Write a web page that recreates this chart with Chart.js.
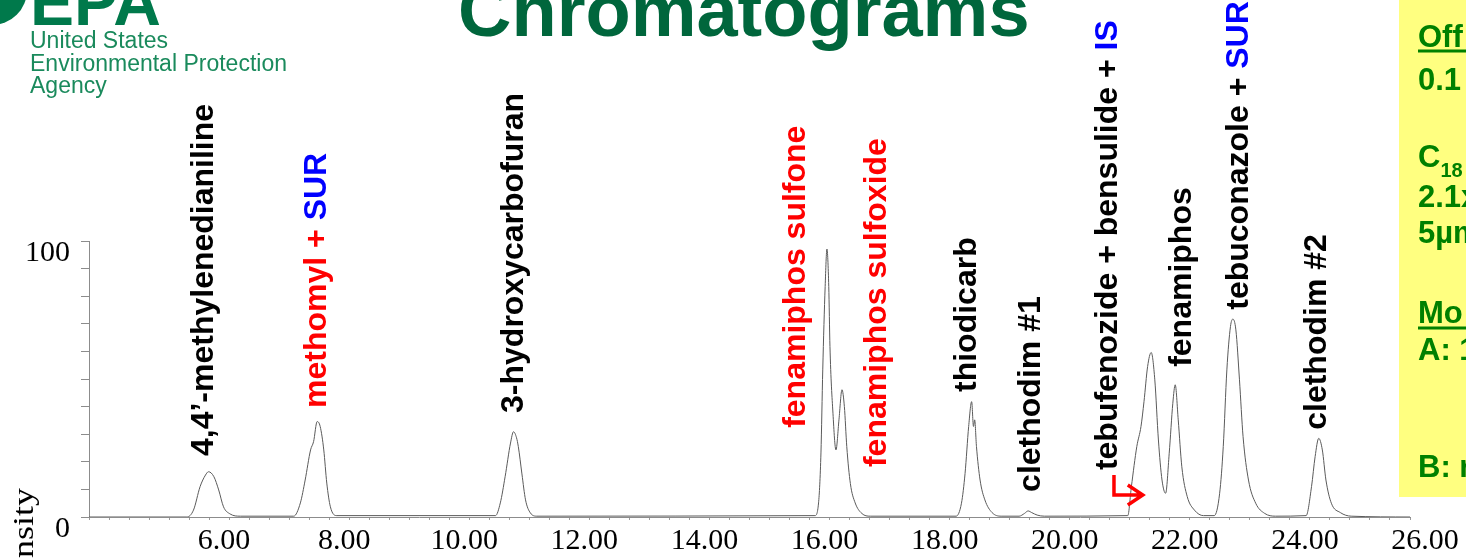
<!DOCTYPE html>
<html>
<head>
<meta charset="utf-8">
<title>Chromatograms</title>
<script src="https://cdn.jsdelivr.net/npm/chart.js@4.4.1/dist/chart.umd.min.js"></script>
<style>
  html, body { margin: 0; padding: 0; background: #fff; overflow: hidden; }
  #wrap { position: relative; width: 1466px; height: 558px; }
</style>
</head>
<body>
<div id="wrap"><canvas id="chrom" width="1466" height="558"></canvas></div>
<script>
// --- Trace (retention time in min, relative intensity in %) ---
const retentionTime = [
    4.00,
    5.63, 5.74, 5.85, 5.94, 5.99, 6.08, 6.16, 6.24, 6.35, 6.52,
    7.41, 7.52, 7.60, 7.69, 7.74, 7.80, 7.85, 7.91, 7.96, 8.02, 8.13,
    10.77, 10.85, 10.93, 11.02, 11.07, 11.12, 11.15, 11.21, 11.27, 11.35, 11.46,
    16.09, 16.15, 16.19, 16.22, 16.26, 16.29, 16.32, 16.34, 16.39, 16.44, 16.49, 16.54, 16.58, 16.62, 16.68, 16.76, 16.87, 17.01,
    18.44, 18.53, 18.59, 18.65, 18.70, 18.73, 18.75, 18.78, 18.84, 18.92, 19.04, 19.19,
    19.49, 19.58, 19.64, 19.70, 19.79, 19.91,
    21.30, 21.36, 21.45, 21.52, 21.57, 21.63, 21.69, 21.75, 21.81, 21.87, 21.93, 21.99, 22.05, 22.09, 22.14, 22.20, 22.29, 22.41, 22.56,
    22.74, 22.83, 22.89, 22.95, 23.01, 23.05, 23.10, 23.16, 23.22, 23.31, 23.43, 23.58, 23.76,
    24.27, 24.36, 24.42, 24.48, 24.54, 24.60, 24.69, 24.84, 25.02,
    26.00
];
const intensity = [
    0,
    0, 2.5, 11.0, 15.2, 16.4, 14.6, 9.8, 3.7, 1.1, 0.3,
    0.3, 5.1, 13.4, 24.3, 27.3, 34.6, 32.8, 24.3, 12.3, 3.7, 0.5,
    0.5, 5.1, 14.6, 26.8, 30.9, 28.7, 25.5, 15.6, 6.2, 1.5, 0.3,
    0.5, 5.1, 23.2, 53.3, 83.5, 97.1, 83.5, 61.8, 37.6, 24.3, 35.2, 46.1, 40.0, 25.5, 12.1, 5.1, 1.3, 0.3,
    0.3, 5.0, 15.8, 32.8, 41.8, 32.8, 35.2, 25.5, 13.4, 6.2, 1.6, 0.3,
    0.3, 1.3, 2.2, 1.6, 0.7, 0.3,
    0.5, 11.0, 25.5, 32.8, 41.8, 54.5, 59.6, 49.7, 27.9, 13.4, 8.6, 23.1, 41.2, 47.9, 35.2, 18.2, 7.4, 2.5, 0.5,
    0.5, 8.6, 25.5, 53.3, 69.0, 71.7, 67.8, 49.7, 29.1, 13.4, 5.0, 1.3, 0.3,
    0.5, 11.0, 21.9, 28.5, 24.3, 13.4, 5.0, 1.6, 0.3,
    0
];

// --- Axis ticks ---
const xTickLabels = [6, 8, 10, 12, 14, 16, 18, 20, 22, 24, 26];
const yTickLabels = [0, 100];

// --- Peak names, where they stand (time, intensity at the start of the text) ---
const peakNames = [
    '4,4\u2019-methylenedianiline',
    'methomyl + SUR',
    '3-hydroxycarbofuran',
    'fenamiphos sulfone',
    'fenamiphos sulfoxide',
    'thiodicarb',
    'clethodim #1',
    'tebufenozide + bensulide + IS',
    'fenamiphos',
    'tebuconazole + SUR',
    'clethodim #2'
];
const peakLabelTime = [6.07, 7.94, 11.23, 15.93, 17.28, 18.77, 19.84, 21.12, 22.35, 23.30, 24.60];
const peakLabelLevel = [22.1, 39.5, 37.7, 32.3, 18.1, 45.3, 9.1, 17.0, 54.4, 75.1, 31.6];
const peakHighlighted = [false, true, false, true, true, false, false, false, false, false, false];

// arrow pointing at the tebufenozide shoulder
const arrowPath = [[21.07, 15.2], [21.07, 8.0], [21.55, 8.0]];

const GREEN = '#008000';

function drawRotated(ctx, x, y, parts) {
    ctx.save();
    ctx.translate(x, y);
    ctx.rotate(-Math.PI / 2);
    ctx.textAlign = 'left';
    ctx.textBaseline = 'alphabetic';
    let off = 0;
    parts.forEach(p => {
        ctx.fillStyle = p.color;
        ctx.fillText(p.text, off, 0);
        off += ctx.measureText(p.text).width;
    });
    ctx.restore();
}

const slideDecor = {
    id: 'slideDecor',
    afterDraw(chart) {
        const ctx = chart.ctx;
        const xs = chart.scales.x, ys = chart.scales.y;

        // yellow method box on the right
        ctx.save();
        ctx.fillStyle = '#ffff80';
        ctx.fillRect(1399, 0, 80, 497);
        ctx.fillStyle = GREEN;
        ctx.strokeStyle = GREEN;
        ctx.font = 'bold 31px "Liberation Sans", Arial, sans-serif';
        ctx.textBaseline = 'alphabetic';
        ctx.fillText('Off', 1418, 47);
        ctx.fillText('0.1', 1418, 90);
        ctx.fillText('C', 1418, 167);
        const cW = ctx.measureText('C').width;
        ctx.fillText('2.1x', 1418, 207);
        ctx.fillText('5\u00b5m', 1418, 243);
        ctx.fillText('Mo', 1418, 323);
        ctx.fillText('A: 1', 1418, 360);
        ctx.fillText('B: r', 1418, 477);
        ctx.font = 'bold 20px "Liberation Sans", Arial, sans-serif';
        ctx.fillText('18', 1418 + cW, 177);
        ctx.lineWidth = 3;
        ctx.beginPath();
        ctx.moveTo(1418, 51); ctx.lineTo(1466, 51);
        ctx.moveTo(1418, 328); ctx.lineTo(1466, 328);
        ctx.stroke();
        ctx.restore();

        // EPA logo (cut at the top)
        ctx.save();
        ctx.fillStyle = '#00794b';
        ctx.beginPath();
        ctx.arc(-8, -10, 35, 0, Math.PI * 2);
        ctx.fill();
        ctx.font = 'bold 66px "Liberation Sans", Arial, sans-serif';
        ctx.fillText('EPA', 30, 25);
        ctx.fillStyle = '#1a8a5c';
        ctx.font = '23px "Liberation Sans", Arial, sans-serif';
        ctx.fillText('United States', 30, 48);
        ctx.fillText('Environmental Protection', 30, 71);
        ctx.fillText('Agency', 30, 93);
        ctx.restore();

        // slide title (cut at the top)
        ctx.save();
        ctx.fillStyle = '#00663c';
        ctx.font = 'bold 74px "Liberation Sans", Arial, sans-serif';
        ctx.fillText('Chromatograms', 458, 36);
        ctx.restore();

        // y axis title, mostly below the window
        ctx.save();
        ctx.font = '30px "Liberation Serif", "Times New Roman", serif';
        ctx.fillStyle = '#000';
        ctx.translate(33, 488);
        ctx.rotate(-Math.PI / 2);
        ctx.scale(1.2, 1);
        ctx.textAlign = 'right';
        ctx.fillText('Intensity', 0, 0);
        ctx.restore();

        // peak names
        ctx.save();
        ctx.font = 'bold 32px "Liberation Sans", Arial, sans-serif';
        peakNames.forEach((name, i) => {
            const m = name.match(/^(.*?)(SUR|IS)?$/);
            const parts = [{ text: m[1], color: peakHighlighted[i] ? '#ff0000' : '#000000' }];
            if (m[2]) parts.push({ text: m[2], color: '#0000ff' });
            drawRotated(ctx, xs.getPixelForValue(peakLabelTime[i]), ys.getPixelForValue(peakLabelLevel[i]), parts);
        });
        ctx.restore();

        // red arrow
        ctx.save();
        ctx.strokeStyle = '#ff0000';
        ctx.lineWidth = 3.5;
        const pts = arrowPath.map(p => [xs.getPixelForValue(p[0]), ys.getPixelForValue(p[1])]);
        ctx.beginPath();
        ctx.moveTo(pts[0][0], pts[0][1]);
        pts.slice(1).forEach(p => ctx.lineTo(p[0], p[1]));
        const tip = pts[pts.length - 1];
        ctx.moveTo(tip[0] - 15, tip[1] - 10);
        ctx.lineTo(tip[0], tip[1]);
        ctx.lineTo(tip[0] - 15, tip[1] + 10);
        ctx.stroke();
        ctx.restore();
    }
};

const tickFont = { family: '"Liberation Serif", "Times New Roman", serif', size: 30 };
const isLabelled = (v, list) => list.some(t => Math.abs(t - v) < 1e-6);

new Chart(document.getElementById('chrom'), {
    type: 'line',
    data: {
        datasets: [{
            data: retentionTime.map((t, i) => ({ x: t, y: intensity[i] })),
            borderColor: '#5a5a5a',
            borderWidth: 1,
            pointRadius: 0,
            cubicInterpolationMode: 'monotone',
            fill: false
        }]
    },
    options: {
        responsive: false,
        animation: false,
        devicePixelRatio: 1,
        layout: { padding: { top: 241, right: 56, left: 0, bottom: 0 } },
        plugins: { legend: { display: false }, tooltip: { enabled: false } },
        scales: {
            x: {
                type: 'linear',
                min: 4,
                max: 26,
                afterFit: s => { s.height = 41; },
                border: { display: true, color: '#8c8c8c', width: 1 },
                grid: { drawOnChartArea: false, drawTicks: true, tickLength: 3, color: '#9a9a9a' },
                ticks: {
                    stepSize: 1 / 3,
                    autoSkip: false,
                    maxRotation: 0,
                    padding: 3,
                    labelOffset: 15,
                    color: '#000',
                    font: tickFont,
                    callback: v => isLabelled(v, xTickLabels) ? Math.round(v).toFixed(2) : ''
                }
            },
            y: {
                min: 0,
                max: 100,
                afterFit: s => { s.width = 89; },
                border: { display: true, color: '#8c8c8c', width: 1 },
                grid: { drawOnChartArea: false, drawTicks: true, tickLength: 8, color: '#8c8c8c' },
                ticks: {
                    stepSize: 10,
                    autoSkip: false,
                    padding: 11,
                    labelOffset: 12,
                    color: '#000',
                    font: tickFont,
                    callback: v => isLabelled(v, yTickLabels) ? String(v) : ''
                }
            }
        }
    },
    plugins: [slideDecor]
});
</script>
</body>
</html>
